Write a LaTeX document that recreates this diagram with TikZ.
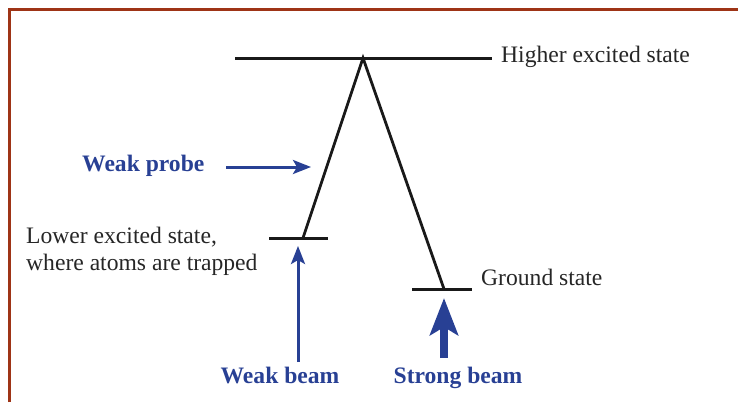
\documentclass[tikz,border=0pt]{standalone}
\usepackage{fontspec}
\setmainfont{Liberation Serif}
\usepackage{xcolor}
\usepackage{tikz}
\usetikzlibrary{arrows.meta,positioning}

\definecolor{beamblue}{RGB}{40,64,148}
\definecolor{framebrown}{RGB}{158,52,22}

\begin{document}
\begin{tikzpicture}[
  x=1pt,y=-1pt,
  font=\fontsize{23.6}{27}\selectfont,
  level/.style={line width=3pt,draw=black!90},
  trans/.style={line width=2.8pt,draw=black!90},
  statetext/.style={inner sep=0pt,anchor=base west,text=black!85},
  beamtext/.style={inner sep=0pt,anchor=base,text=beamblue,font=\fontsize{23.6}{27}\selectfont\bfseries},
  thinarrow/.style={-{Stealth[length=18pt,width=14pt,inset=4pt]},line width=3pt,draw=beamblue},
  thickarrow/.style={-{Stealth[length=37pt,width=28pt,inset=8pt]},line width=7.5pt,draw=beamblue}
]
\useasboundingbox (0,0) rectangle (738,402);
\draw[framebrown,line width=3pt] (9,402) -- (9,9) -- (738,9);

% energy levels
\coordinate (hiL) at (235,58);
\coordinate (hiR) at (492,58);
\coordinate (apex) at (363,58);
\coordinate (loL) at (269,238);
\coordinate (loR) at (328,238);
\coordinate (lo) at (303,238);
\coordinate (gnL) at (412,289);
\coordinate (gnR) at (472,289);
\coordinate (gn) at (444,289);

\draw[level] (hiL) -- (hiR);
\draw[level] (loL) -- (loR);
\draw[level] (gnL) -- (gnR);
\draw[trans] (lo) -- (apex) -- (gn);

\node[statetext] (higher) at (501,62) {Higher excited state};
\node[statetext,align=left] (lower) at (26,270) {Lower excited state,\\where atoms are trapped};
\node[statetext] (ground) at (481,285) {Ground state};

% beams
\node[beamtext,anchor=base west] (probe) at (82,171) {Weak probe};
\node[beamtext] (wbeam) at (280,383) {Weak beam};
\node[beamtext] (sbeam) at (458,383) {Strong beam};

\coordinate (probeTail) at (226,167);
\coordinate (probeTip) at (311,167);
\coordinate (wbeamTail) at (298,362);
\coordinate (wbeamTip) at (298,246);
\coordinate (sbeamTail) at (444,358);
\coordinate (sbeamTip) at (444,298);

\draw[thinarrow] (probeTail) -- (probeTip);
\draw[thinarrow] (wbeamTail) -- (wbeamTip);
\draw[thickarrow] (sbeamTail) -- (sbeamTip);
\end{tikzpicture}
\end{document}
